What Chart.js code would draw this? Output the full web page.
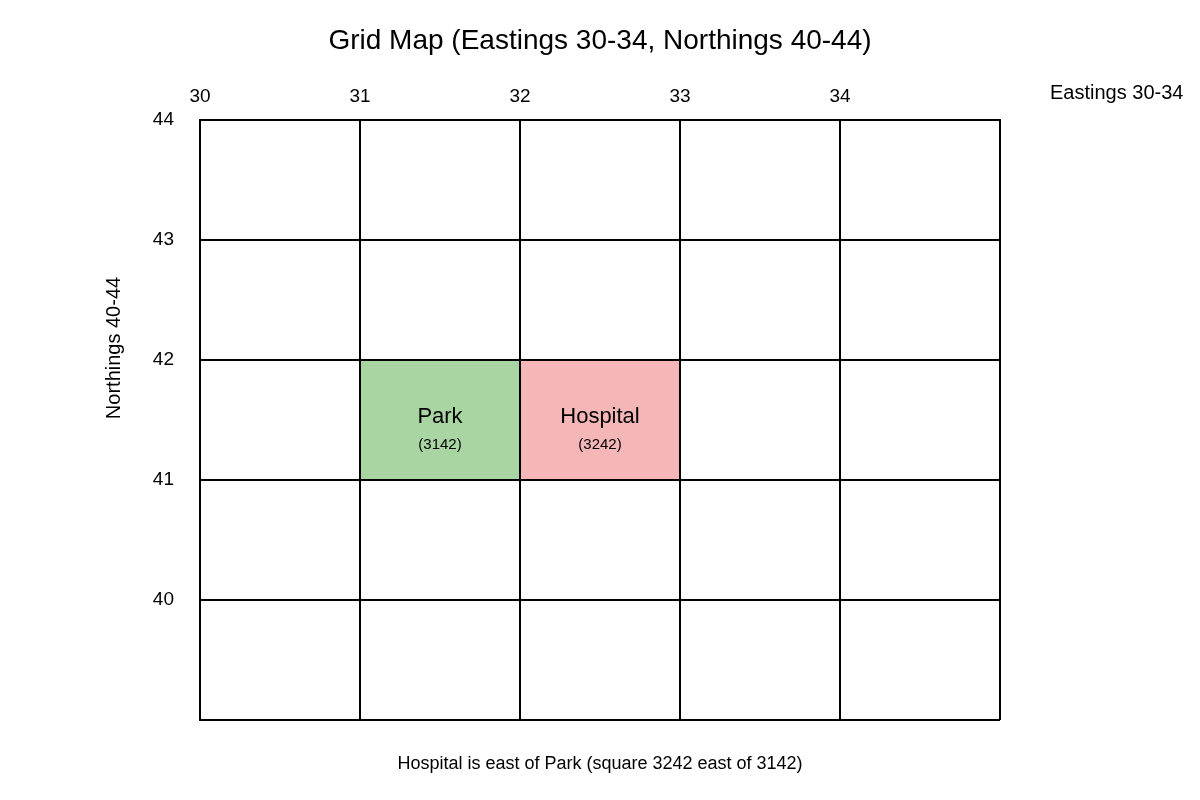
<!DOCTYPE html>
<html><head><meta charset="utf-8">
<script src="https://cdn.jsdelivr.net/npm/chart.js@4"></script>
<style>body{margin:0;background:#fff}#wrap{width:1200px;height:800px}</style>
</head><body><div id="wrap"><canvas id="c"></canvas></div>
<script>
const eastings = [30, 31, 32, 33, 34];
const northings = [40, 41, 42, 43, 44];
const cellNames = ['Park', 'Hospital'];
const cellCodes = ['3142', '3242'];
const cellE = [31, 32];
const cellN = [41, 41];
const cellColors = ['#a8d5a2', '#f4b6b6'];

const font = 'Liberation Sans, Arial, sans-serif';

const cells = {
  id: 'cells',
  beforeDraw(chart) {
    const c = chart.ctx, x = chart.scales.x, y = chart.scales.y;
    cellNames.forEach((n, i) => {
      const x0 = x.getPixelForValue(cellE[i]), x1 = x.getPixelForValue(cellE[i] + 1);
      const y0 = y.getPixelForValue(cellN[i] + 1), y1 = y.getPixelForValue(cellN[i]);
      c.fillStyle = cellColors[i];
      c.fillRect(x0, y0, x1 - x0, y1 - y0);
    });
  },
  afterDraw(chart) {
    const c = chart.ctx, x = chart.scales.x, y = chart.scales.y;
    c.save();
    c.fillStyle = '#000';
    c.textAlign = 'center';
    c.textBaseline = 'middle';
    cellNames.forEach((n, i) => {
      const cx = x.getPixelForValue(cellE[i] + 0.5), cy = y.getPixelForValue(cellN[i] + 0.5);
      c.font = '22px ' + font;
      c.fillText(n, cx, cy - 3);
      c.font = '15px ' + font;
      c.fillText('(' + cellCodes[i] + ')', cx, cy + 25);
    });
    c.font = '28px ' + font;
    c.fillText('Grid Map (Eastings 30-34, Northings 40-44)', 600, 41);
    c.font = '18px ' + font;
    c.fillText('Hospital is east of Park (square 3242 east of 3142)', 600, 764);
    c.font = '20px ' + font;
    c.textAlign = 'left';
    c.fillText('Eastings 30-34', 1050, 93);
    c.translate(114, 348);
    c.rotate(-Math.PI / 2);
    c.textAlign = 'center';
    c.fillText('Northings 40-44', 0, 0);
    c.restore();
  }
};

new Chart(document.getElementById('c'), {
  type: 'scatter',
  data: { datasets: [{ data: [] }] },
  options: {
    responsive: true,
    maintainAspectRatio: false,
    animation: false,
    layout: { padding: { left: 0, right: 200, top: 0, bottom: 80 } },
    plugins: { legend: { display: false }, tooltip: { enabled: false } },
    scales: {
      x: {
        type: 'linear', position: 'top', min: 30, max: 35,
        afterFit(s) { s.height = 120; },
        ticks: {
          stepSize: 1, padding: 12, color: '#000', font: { size: 19, family: font },
          callback: v => eastings.includes(v) ? String(v) : ''
        },
        grid: { color: '#000', lineWidth: 2, drawTicks: false },
        border: { color: '#000', width: 2 }
      },
      y: {
        type: 'linear', min: 39, max: 44,
        afterFit(s) { s.width = 200; },
        ticks: {
          stepSize: 1, padding: 26, color: '#000', font: { size: 19, family: font },
          callback: v => northings.includes(v) ? String(v) : ''
        },
        grid: { color: '#000', lineWidth: 2, drawTicks: false },
        border: { color: '#000', width: 2 }
      }
    }
  },
  plugins: [cells]
});
</script></body></html>
